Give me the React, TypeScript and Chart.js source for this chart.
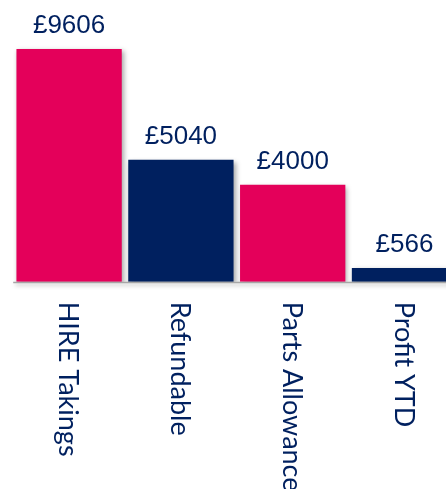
import React, { useEffect, useRef } from "react";
import { Chart, registerables } from "chart.js";

Chart.register(...registerables);

const categories = ["HIRE Takings", "Refundable", "Parts Allowance", "Profit YTD"];
const values = [9606, 5040, 4000, 566];
const barColors = ["#E4005A", "#00205F", "#E4005A", "#00205F"];
const yMax = 10000;

const NAVY = "#00205F";

const shadowPlugin = {
  id: "shadowAndAxis",
  beforeDatasetsDraw(chart: any) {
    const { ctx, chartArea } = chart;
    ctx.save();
    ctx.shadowColor = "rgba(0,0,0,0.35)";
    ctx.shadowBlur = 4;
    ctx.shadowOffsetX = 2;
    ctx.shadowOffsetY = 2;
    ctx.strokeStyle = "#A6A6A6";
    ctx.lineWidth = 1.5;
    ctx.beginPath();
    ctx.moveTo(chartArea.left, chartArea.bottom + 0.8);
    ctx.lineTo(chart.width, chartArea.bottom + 0.8);
    ctx.stroke();
    ctx.restore();
    ctx.save();
    ctx.shadowColor = "rgba(0,0,0,0.35)";
    ctx.shadowBlur = 5;
    ctx.shadowOffsetX = 2;
    ctx.shadowOffsetY = 2;
  },
  afterDatasetsDraw(chart: any) {
    chart.ctx.restore();
  },
};

const labelPlugin = {
  id: "labels",
  afterDraw(chart: any) {
    const { ctx, chartArea } = chart;
    const meta = chart.getDatasetMeta(0);
    const xScale = chart.scales.x;
    ctx.save();
    ctx.fillStyle = NAVY;
    ctx.font = '26px "Liberation Sans", Arial, sans-serif';
    ctx.textAlign = "center";
    ctx.textBaseline = "alphabetic";
    meta.data.forEach((el: any, i: number) => {
      ctx.fillText("£" + values[i], el.x, el.y - 16);
    });
    ctx.font = '27px Lato, "Liberation Sans", sans-serif';
    categories.forEach((c, i) => {
      const x = xScale.getPixelForValue(i);
      ctx.save();
      ctx.translate(x - 1, chartArea.bottom + 20);
      ctx.rotate(Math.PI / 2);
      ctx.textAlign = "left";
      ctx.textBaseline = "middle";
      ctx.fillText(c, 0, 0);
      ctx.restore();
    });
    ctx.restore();
  },
};

export default function App() {
  const ref = useRef<HTMLCanvasElement>(null);
  useEffect(() => {
    if (!ref.current) return;
    const chart = new Chart(ref.current, {
      type: "bar",
      data: {
        labels: categories,
        datasets: [
          {
            data: values,
            backgroundColor: barColors,
            borderWidth: 0,
            categoryPercentage: 1,
            barPercentage: 0.942,
          },
        ],
      },
      options: {
        responsive: false,
        animation: false,
        layout: { padding: { left: 13.2, right: 9.6, top: 39.5, bottom: 207.3 } },
        plugins: { legend: { display: false }, tooltip: { enabled: false } },
        scales: {
          x: { display: false },
          y: { display: false, min: 0, max: yMax },
        },
      },
      plugins: [shadowPlugin, labelPlugin],
    });
    return () => chart.destroy();
  }, []);
  return (
    <div
      style={{
        position: "fixed",
        left: 0,
        top: 0,
        width: 446,
        height: 489,
        overflow: "hidden",
        background: "#fff",
      }}
    >
      <canvas ref={ref} width={470} height={489} style={{ width: 470, height: 489 }} />
    </div>
  );
}
